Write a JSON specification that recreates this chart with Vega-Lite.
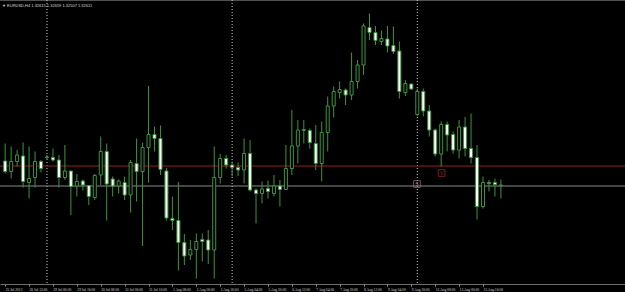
{
  "$schema": "https://vega.github.io/schema/vega-lite/v6.json",
  "width": 625,
  "height": 284,
  "autosize": {"type": "none"},
  "padding": {"left": 0, "right": 0, "top": 0, "bottom": 8},
  "background": "#000000",
  "title": {
    "text": "▼ EURUSD,H4  1.32615 1.32659 1.32507 1.32611",
    "anchor": "start",
    "frame": "group",
    "orient": "top",
    "offset": 0,
    "baseline": "top",
    "dy": 8,
    "dx": 2,
    "fontSize": 4,
    "fontWeight": "normal",
    "font": "Liberation Sans",
    "color": "#d8d8d8"
  },
  "datasets": {
    "bars": [
      {"i":0,"o":1.32807,"h":1.32947,"l":1.32707,"c":1.32723},
      {"i":1,"o":1.32723,"h":1.32923,"l":1.32667,"c":1.32803},
      {"i":2,"o":1.32803,"h":1.32895,"l":1.32763,"c":1.32855},
      {"i":3,"o":1.32847,"h":1.32955,"l":1.32595,"c":1.32643},
      {"i":4,"o":1.32635,"h":1.32923,"l":1.32507,"c":1.32667},
      {"i":5,"o":1.32675,"h":1.32883,"l":1.32595,"c":1.32803},
      {"i":6,"o":1.32803,"h":1.32815,"l":1.32715,"c":1.32747},
      {"i":7,"o":1.32839,"h":1.32855,"l":1.32823,"c":1.32835},
      {"i":8,"o":1.32835,"h":1.32907,"l":1.32803,"c":1.32815},
      {"i":9,"o":1.32815,"h":1.32855,"l":1.32595,"c":1.32675},
      {"i":10,"o":1.32675,"h":1.32935,"l":1.32655,"c":1.32727},
      {"i":11,"o":1.32727,"h":1.32727,"l":1.32375,"c":1.32603},
      {"i":12,"o":1.32607,"h":1.32703,"l":1.32523,"c":1.32643},
      {"i":13,"o":1.32647,"h":1.32659,"l":1.32571,"c":1.32615},
      {"i":14,"o":1.32611,"h":1.32615,"l":1.32455,"c":1.32523},
      {"i":15,"o":1.32515,"h":1.32703,"l":1.32495,"c":1.32691},
      {"i":16,"o":1.32695,"h":1.33003,"l":1.32615,"c":1.32883},
      {"i":17,"o":1.32883,"h":1.32947,"l":1.32331,"c":1.32623},
      {"i":18,"o":1.32663,"h":1.32683,"l":1.32523,"c":1.32607},
      {"i":19,"o":1.32607,"h":1.32659,"l":1.32547,"c":1.32647},
      {"i":20,"o":1.32635,"h":1.32683,"l":1.32495,"c":1.32535},
      {"i":21,"o":1.32535,"h":1.32815,"l":1.32395,"c":1.32795},
      {"i":22,"o":1.32787,"h":1.32987,"l":1.32483,"c":1.32723},
      {"i":23,"o":1.32723,"h":1.32955,"l":1.32127,"c":1.32915},
      {"i":24,"o":1.32915,"h":1.33407,"l":1.32635,"c":1.33019},
      {"i":25,"o":1.33019,"h":1.33083,"l":1.32883,"c":1.32987},
      {"i":26,"o":1.32987,"h":1.33091,"l":1.32695,"c":1.32739},
      {"i":27,"o":1.32727,"h":1.32751,"l":1.32331,"c":1.32351},
      {"i":28,"o":1.32347,"h":1.32523,"l":1.32255,"c":1.32331},
      {"i":29,"o":1.32331,"h":1.32639,"l":1.31931,"c":1.32155},
      {"i":30,"o":1.32155,"h":1.32223,"l":1.31975,"c":1.32047},
      {"i":31,"o":1.32055,"h":1.32175,"l":1.32015,"c":1.32099},
      {"i":32,"o":1.32099,"h":1.32227,"l":1.31867,"c":1.32163},
      {"i":33,"o":1.32179,"h":1.32227,"l":1.32003,"c":1.32163},
      {"i":34,"o":1.32175,"h":1.32255,"l":1.31983,"c":1.32095},
      {"i":35,"o":1.32095,"h":1.32923,"l":1.31867,"c":1.32675},
      {"i":36,"o":1.32675,"h":1.32863,"l":1.32627,"c":1.32827},
      {"i":37,"o":1.32827,"h":1.32855,"l":1.32747,"c":1.32775},
      {"i":38,"o":1.32775,"h":1.32803,"l":1.32683,"c":1.32755},
      {"i":39,"o":1.32755,"h":1.32795,"l":1.32687,"c":1.32735},
      {"i":40,"o":1.32735,"h":1.32987,"l":1.32627,"c":1.32867},
      {"i":41,"o":1.32867,"h":1.32975,"l":1.32563,"c":1.32575},
      {"i":42,"o":1.32575,"h":1.32587,"l":1.32307,"c":1.32547},
      {"i":43,"o":1.32547,"h":1.32643,"l":1.32467,"c":1.32583},
      {"i":44,"o":1.32587,"h":1.32651,"l":1.32507,"c":1.32563},
      {"i":45,"o":1.32547,"h":1.32695,"l":1.32523,"c":1.32607},
      {"i":46,"o":1.32607,"h":1.32655,"l":1.32443,"c":1.32579},
      {"i":47,"o":1.32579,"h":1.32935,"l":1.32575,"c":1.32747},
      {"i":48,"o":1.32747,"h":1.33215,"l":1.32695,"c":1.32927},
      {"i":49,"o":1.32927,"h":1.33135,"l":1.32787,"c":1.33055},
      {"i":50,"o":1.33051,"h":1.33135,"l":1.32947,"c":1.33059},
      {"i":51,"o":1.33051,"h":1.33067,"l":1.32907,"c":1.32955},
      {"i":52,"o":1.32947,"h":1.33095,"l":1.32735,"c":1.32787},
      {"i":53,"o":1.32787,"h":1.33123,"l":1.32643,"c":1.33035},
      {"i":54,"o":1.33035,"h":1.33323,"l":1.32883,"c":1.33247},
      {"i":55,"o":1.33247,"h":1.33403,"l":1.33155,"c":1.33363},
      {"i":56,"o":1.33355,"h":1.33443,"l":1.33307,"c":1.33379},
      {"i":57,"o":1.33375,"h":1.33387,"l":1.33255,"c":1.33335},
      {"i":58,"o":1.33335,"h":1.33675,"l":1.33295,"c":1.33443},
      {"i":59,"o":1.33443,"h":1.33615,"l":1.33387,"c":1.33575},
      {"i":60,"o":1.33575,"h":1.33907,"l":1.33495,"c":1.33887},
      {"i":61,"o":1.33875,"h":1.33987,"l":1.33775,"c":1.33835},
      {"i":62,"o":1.33835,"h":1.33887,"l":1.33735,"c":1.33771},
      {"i":63,"o":1.33763,"h":1.33851,"l":1.33735,"c":1.33787},
      {"i":64,"o":1.33783,"h":1.33887,"l":1.33675,"c":1.33727},
      {"i":65,"o":1.33731,"h":1.33883,"l":1.33663,"c":1.33683},
      {"i":66,"o":1.33687,"h":1.33763,"l":1.33307,"c":1.33363},
      {"i":67,"o":1.33355,"h":1.33455,"l":1.33327,"c":1.33427},
      {"i":68,"o":1.33423,"h":1.33427,"l":1.33375,"c":1.33383},
      {"i":69,"o":1.33179,"h":1.33387,"l":1.33163,"c":1.33363},
      {"i":70,"o":1.33363,"h":1.33387,"l":1.33163,"c":1.33207},
      {"i":71,"o":1.33207,"h":1.33255,"l":1.33003,"c":1.33055},
      {"i":72,"o":1.33055,"h":1.33067,"l":1.32843,"c":1.32863},
      {"i":73,"o":1.32863,"h":1.33123,"l":1.32763,"c":1.33099},
      {"i":74,"o":1.33099,"h":1.33123,"l":1.32883,"c":1.33015},
      {"i":75,"o":1.33019,"h":1.33043,"l":1.32867,"c":1.32895},
      {"i":76,"o":1.32895,"h":1.33135,"l":1.32827,"c":1.33079},
      {"i":77,"o":1.33079,"h":1.33159,"l":1.32843,"c":1.32907},
      {"i":78,"o":1.32907,"h":1.33187,"l":1.32787,"c":1.32835},
      {"i":79,"o":1.32835,"h":1.32935,"l":1.32339,"c":1.32443},
      {"i":80,"o":1.32443,"h":1.32683,"l":1.32427,"c":1.32635},
      {"i":81,"o":1.32635,"h":1.32655,"l":1.32563,"c":1.32627},
      {"i":82,"o":1.32635,"h":1.32667,"l":1.32523,"c":1.32619},
      {"i":83,"o":1.32615,"h":1.32659,"l":1.32507,"c":1.32611}
    ],
    "separators": [{"i": 7}, {"i": 38}, {"i": 69}],
    "levels": [
      {"name": "line", "p": 1.32767},
      {"name": "bid", "p": 1.32607}
    ],
    "objects": [
      {"name": "v", "i": 73.07, "p": 1.32711, "label": "V"},
      {"name": "s", "i": 68.95, "p": 1.32623, "label": "S"}
    ],
    "frame": [{"p": 1.34092}]
  },
  "encoding": {
    "x": {
      "field": "i", "type": "quantitative",
      "scale": {"domain": [-0.03, 102.94], "nice": false, "zero": false},
      "axis": {
        "values": [0, 4, 8, 12, 16, 20, 24, 28, 32, 36, 40, 44, 48, 52, 56, 60, 64, 68, 72, 76, 80],
        "labelExpr": "['25 Jul 2013','26 Jul 12:00','29 Jul 00:00','29 Jul 16:00','30 Jul 08:00','31 Jul 00:00','31 Jul 16:00','1 Aug 08:00','2 Aug 00:00','2 Aug 16:00','5 Aug 04:00','5 Aug 20:00','6 Aug 12:00','7 Aug 04:00','7 Aug 20:00','8 Aug 12:00','9 Aug 04:00','9 Aug 20:00','12 Aug 08:00','13 Aug 00:00','13 Aug 16:00'][round(datum.value/4)]",
        "labelOverlap": false,
        "labelSeparation": 0,
        "labelBound": false,
        "labelFlush": false,
        "title": null
      }
    }
  },
  "layer": [
    {
      "data": {"name": "frame"},
      "mark": {"type": "rule", "color": "#5c5c5c", "strokeWidth": 1},
      "encoding": {
        "x": null,
        "y": {"field": "p", "type": "quantitative", "scale": {"domain": [1.31823, 1.34095], "nice": false, "zero": false}, "axis": null}
      }
    },
    {
      "data": {"name": "separators"},
      "mark": {"type": "rule", "color": "#c8c8c8", "strokeWidth": 1, "strokeDash": [1, 2]},
      "encoding": {}
    },
    {
      "data": {"name": "levels"},
      "mark": {"type": "rule", "strokeWidth": 1},
      "encoding": {
        "x": null,
        "y": {"field": "p", "type": "quantitative"},
        "color": {"field": "name", "type": "nominal", "scale": {"domain": ["line", "bid"], "range": ["#9a1c1c", "#8a8a8a"]}, "legend": null}
      }
    },
    {
      "data": {"name": "bars"},
      "mark": {"type": "rule", "color": "#3a963a", "strokeWidth": 1},
      "encoding": {
        "y": {"field": "l", "type": "quantitative"},
        "y2": {"field": "h"}
      }
    },
    {
      "data": {"name": "bars"},
      "mark": {"type": "bar", "size": 3, "stroke": "#3a963a", "strokeWidth": 1},
      "encoding": {
        "y": {"field": "o", "type": "quantitative"},
        "y2": {"field": "c"},
        "fill": {"condition": {"test": "datum.c > datum.o", "value": "#000000"}, "value": "#ffffff"}
      }
    },
    {
      "data": {"name": "objects"},
      "mark": {"type": "point", "shape": "square", "size": 45, "filled": false, "strokeWidth": 1},
      "encoding": {
        "y": {"field": "p", "type": "quantitative"},
        "stroke": {"field": "name", "type": "nominal", "scale": {"domain": ["v", "s"], "range": ["#b02a2a", "#a0708a"]}, "legend": null}
      }
    },
    {
      "data": {"name": "objects"},
      "mark": {"type": "text", "fontSize": 5, "baseline": "middle", "align": "center"},
      "encoding": {
        "y": {"field": "p", "type": "quantitative"},
        "text": {"field": "label"},
        "color": {"field": "name", "type": "nominal", "scale": {"domain": ["v", "s"], "range": ["#c03030", "#b07f98"]}, "legend": null}
      }
    }
  ],
  "config": {
    "view": {"stroke": null},
    "axis": {"grid": false, "labelOverlap": false},
    "axisX": {
      "orient": "bottom",
      "domainColor": "#6e6e6e",
      "tickColor": "#9a9a9a",
      "tickSize": 2,
      "labelColor": "#d8d8d8",
      "labelFontSize": 3.6,
      "labelFont": "Liberation Sans Narrow",
      "labelAlign": "left",
      "labelBaseline": "top",
      "labelPadding": 1,
      "labelOverlap": false
    }
  }
}
